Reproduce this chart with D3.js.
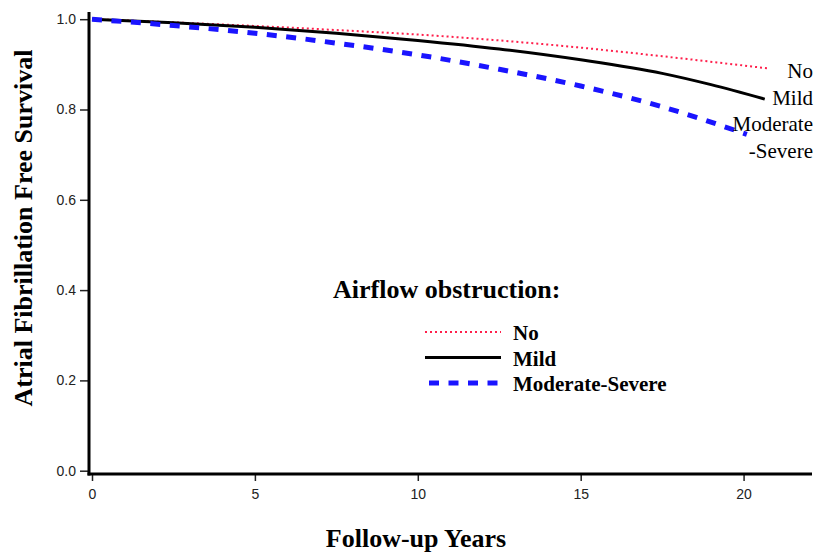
<!DOCTYPE html>
<meta charset="utf-8">
<html>
<head>
    <meta charset="UTF-8">
    <title>AF Free Survival</title>
    <script src="https://d3js.org/d3.v7.min.js"></script>
    <style>
        body { margin: 0; background: #fff; }
    </style>
</head>
<body>
<svg width=819 height=553 id="chart"></svg>
<script>
    // values
    var xTicks = [0, 5, 10, 15, 20];
    var yTicks = [0.0, 0.2, 0.4, 0.6, 0.8, 1.0];
    var groups = ["No", "Mild", "Moderate-Severe"];
    var yearsNo   = [0, 2.5, 5, 7.5, 10, 12.5, 15, 17.5, 20.75];
    var survNo    = [1.0, 0.993, 0.985, 0.976, 0.966, 0.953, 0.937, 0.918, 0.891];
    var yearsMild = [0, 2.5, 5, 7.5, 10, 12.5, 15, 17.5, 19, 20.65];
    var survMild  = [1.0, 0.992, 0.982, 0.969, 0.953, 0.934, 0.910, 0.880, 0.855, 0.823];
    var yearsMod  = [0, 2.5, 5, 7.5, 10, 12.5, 15, 17.5, 20.1];
    var survMod   = [1.0, 0.986, 0.969, 0.947, 0.921, 0.889, 0.852, 0.806, 0.745];
    var endLabels = [["No"], ["Mild"], ["Moderate", "-Severe"]];

    var svg = d3.select("#chart");
    var x = d3.scaleLinear().domain([0, 22.1]).range([92, 812]);
    var y = d3.scaleLinear().domain([0, 1]).range([470.7, 19.2]);
    var serif = "Liberation Serif, Times New Roman, serif";
    var sans = "Liberation Sans, Arial, sans-serif";

    var styles = [
        {color: "#ff1f4b", width: 2, dash: "2,3"},
        {color: "#000000", width: 3, dash: null},
        {color: "#1a14ff", width: 5, dash: "10,9.5"}
    ];
    var series = [
        d3.zip(yearsNo, survNo),
        d3.zip(yearsMild, survMild),
        d3.zip(yearsMod, survMod)
    ];

    // Y axis ticks + labels
    var yAxis = svg.append("g").attr("transform", "translate(89,0)")
        .call(d3.axisLeft(y).tickValues(yTicks).tickFormat(d3.format(".1f")).tickSize(9).tickPadding(4));
    yAxis.select(".domain").remove();
    yAxis.selectAll("line").attr("stroke", "#222").attr("stroke-width", 1.5);
    yAxis.selectAll("text").attr("font-family", sans).attr("font-size", 14).attr("fill", "#222");

    // X axis ticks + labels
    var xAxis = svg.append("g").attr("transform", "translate(0,474)")
        .call(d3.axisBottom(x).tickValues(xTicks).tickSize(7).tickPadding(8));
    xAxis.select(".domain").remove();
    xAxis.selectAll("line").attr("stroke", "#222").attr("stroke-width", 1.5);
    xAxis.selectAll("text").attr("font-family", sans).attr("font-size", 14).attr("fill", "#222");

    // thick axis lines
    svg.append("line").attr("x1", 89).attr("x2", 89).attr("y1", 12).attr("y2", 475.5)
        .attr("stroke", "#000").attr("stroke-width", 3);
    svg.append("line").attr("x1", 87.5).attr("x2", 812).attr("y1", 474).attr("y2", 474)
        .attr("stroke", "#000").attr("stroke-width", 3);

    // curves
    var line = d3.line().x(function(d){ return x(d[0]); }).y(function(d){ return y(d[1]); }).curve(d3.curveMonotoneX);
    series.forEach(function(s, i) {
        svg.append("path").datum(s).attr("d", line).attr("fill", "none")
            .attr("stroke", styles[i].color).attr("stroke-width", styles[i].width)
            .attr("stroke-dasharray", styles[i].dash);
    });

    // labels at end of curves
    var endY = [71, 98, 124];
    endLabels.forEach(function(lines, i) {
        lines.forEach(function(t, j) {
            svg.append("text").attr("x", 813).attr("y", endY[i] + j * 27).attr("dy", "0.35em")
                .attr("text-anchor", "end").attr("font-family", serif)
                .attr("font-size", 21).text(t);
        });
    });

    // legend
    svg.append("text").attr("x", 333).attr("y", 298).attr("font-family", serif)
        .attr("font-weight", "bold").attr("font-size", 26).text("Airflow obstruction:");
    groups.forEach(function(g, i) {
        var ly = 332 + i * 25.5;
        svg.append("line").attr("x1", i == 2 ? 429 : 425).attr("x2", 501).attr("y1", ly).attr("y2", ly)
            .attr("stroke", styles[i].color).attr("stroke-width", styles[i].width)
            .attr("stroke-dasharray", styles[i].dash);
        svg.append("text").attr("x", 513).attr("y", ly + 1).attr("dy", "0.35em")
            .attr("font-family", serif).attr("font-weight", "bold")
            .attr("font-size", 21).text(g);
    });

    // axis titles
    svg.append("text").attr("transform", "translate(32,228) rotate(-90)").attr("text-anchor", "middle")
        .attr("font-family", serif).attr("font-weight", "bold")
        .attr("font-size", 26).text("Atrial Fibrillation Free Survival");
    svg.append("text").attr("x", 416).attr("y", 547).attr("text-anchor", "middle")
        .attr("font-family", serif).attr("font-weight", "bold")
        .attr("font-size", 26).text("Follow-up Years");
</script>
</body>
</html>
